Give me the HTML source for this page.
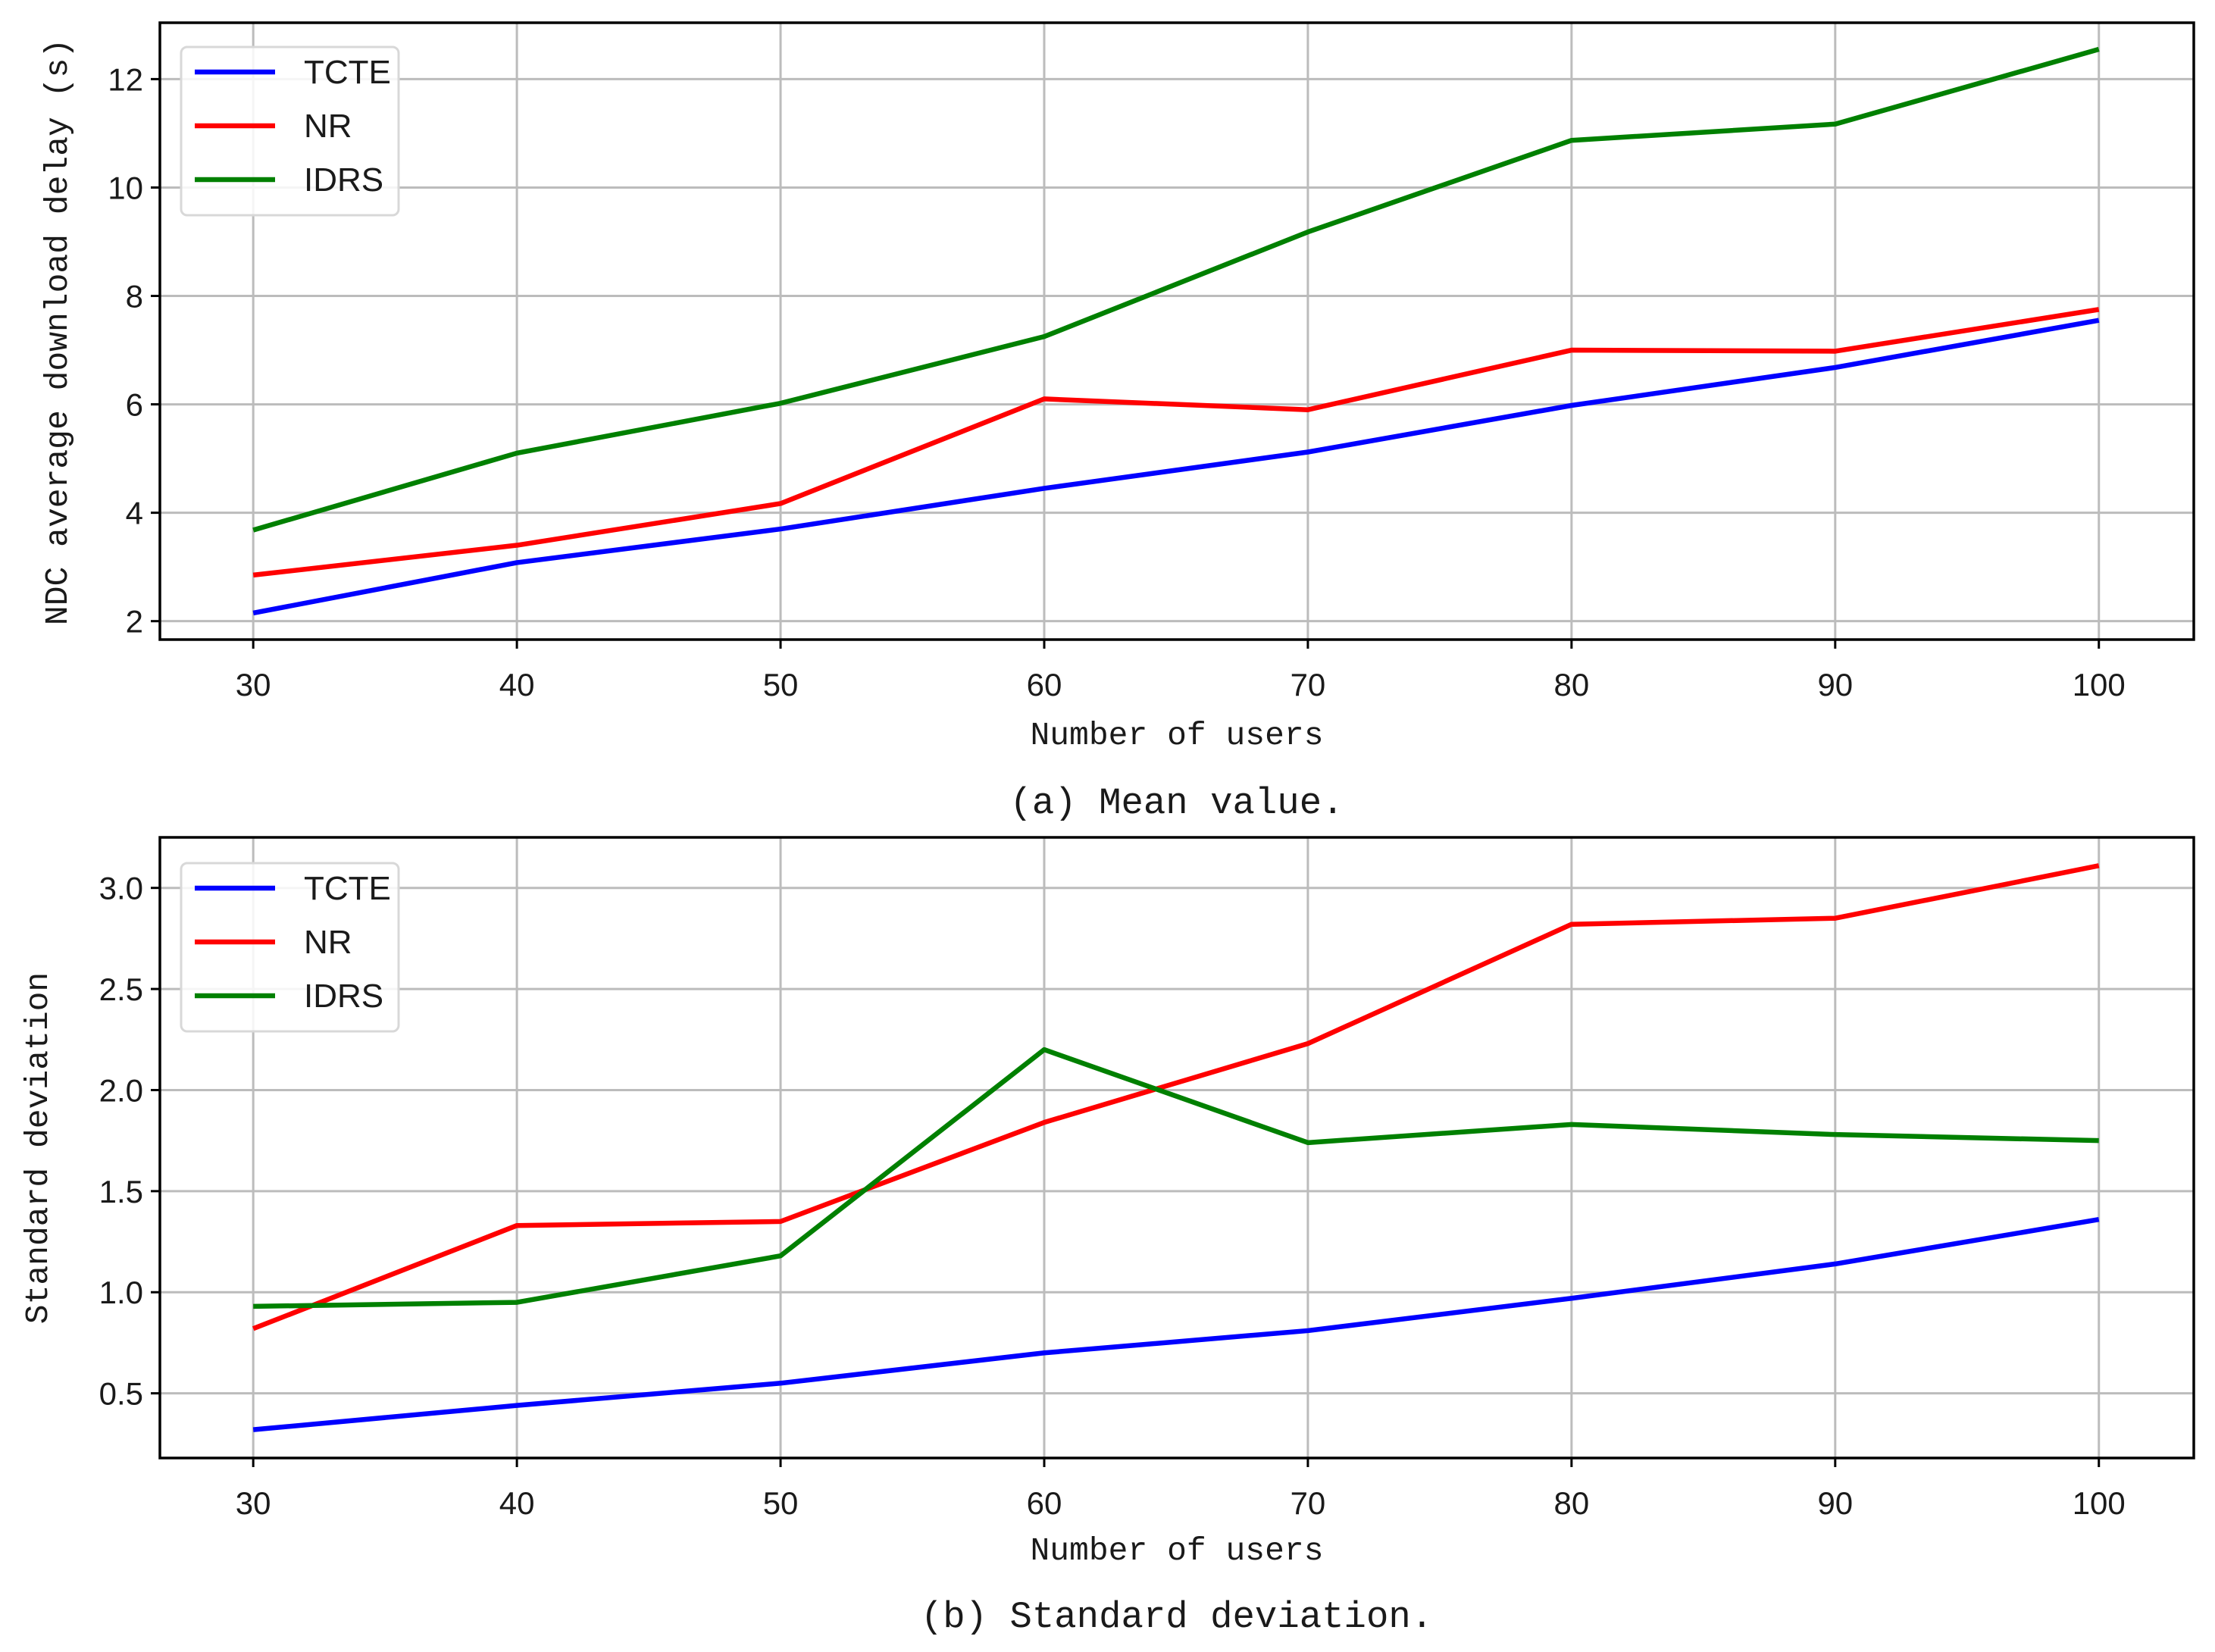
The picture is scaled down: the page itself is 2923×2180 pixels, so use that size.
<!DOCTYPE html>
<html><head><meta charset="utf-8"><style>
html,body{margin:0;padding:0;background:#fff;}
svg{display:block;}
text{fill:#1a1a1a;}
.mono{font-family:"Liberation Mono",monospace;}
.sans{font-family:"Liberation Sans",sans-serif;}
</style></head>
<body>
<svg id="chart" width="2923" height="2180" viewBox="0 0 2923 2180" xmlns="http://www.w3.org/2000/svg"></svg>
<script>
const categories = [30, 40, 50, 60, 70, 80, 90, 100];
const seriesNames = ["TCTE", "NR", "IDRS"];
const seriesColors = ["#0000ff", "#ff0000", "#008000"];
const meanTCTE = [2.15, 3.08, 3.7, 4.45, 5.12, 5.98, 6.68, 7.55];
const meanNR = [2.85, 3.4, 4.17, 6.1, 5.9, 7.0, 6.98, 7.75];
const meanIDRS = [3.68, 5.1, 6.02, 7.25, 9.18, 10.87, 11.17, 12.55];
const stdTCTE = [0.32, 0.44, 0.55, 0.70, 0.81, 0.97, 1.14, 1.36];
const stdNR = [0.82, 1.33, 1.35, 1.84, 2.23, 2.82, 2.85, 3.11];
const stdIDRS = [0.93, 0.95, 1.18, 2.20, 1.74, 1.83, 1.78, 1.75];
const meanTicks = [2, 4, 6, 8, 10, 12];
const meanTickLabels = ["2", "4", "6", "8", "10", "12"];
const stdTicks = [0.5, 1.0, 1.5, 2.0, 2.5, 3.0];
const stdTickLabels = ["0.5", "1.0", "1.5", "2.0", "2.5", "3.0"];
const xTickLabels = ["30", "40", "50", "60", "70", "80", "90", "100"];

const NS = "http://www.w3.org/2000/svg";
const svg = document.getElementById("chart");
function mk(tag, attrs, parent, name, inter) {
  const e = document.createElementNS(NS, tag);
  for (const k in attrs) e.setAttribute(k, attrs[k]);
  
  
  (parent || svg).appendChild(e);
  return e;
}

function drawPanel(cfg) {
  const g = mk("g", {}, svg, cfg.name, false);
  const L = 211, R = 2895, T = cfg.top, B = cfg.bottom;
  const xMin = 26.46, xMax = 103.6;
  const sx = v => L + (v - xMin) / (xMax - xMin) * (R - L);
  const sy = v => B - (v - cfg.yMin) / (cfg.yMax - cfg.yMin) * (B - T);
  categories.forEach((c, i) => {
    mk("line", {x1: sx(c), x2: sx(c), y1: T, y2: B, stroke: "#bcbcbc", "stroke-width": 3}, g, "x-grid-line", false);
    mk("line", {x1: sx(c), x2: sx(c), y1: B, y2: B + 12, stroke: "#000", "stroke-width": 3}, g, "x-tick", false);
    const t = mk("text", {x: sx(c), y: B + 74, "text-anchor": "middle", "font-size": 42, class: "sans"}, g, "x-tick-label", false);
    t.textContent = xTickLabels[i];
  });
  cfg.ticks.forEach((v, i) => {
    mk("line", {x1: L, x2: R, y1: sy(v), y2: sy(v), stroke: "#bcbcbc", "stroke-width": 3}, g, "y-grid-line", false);
    mk("line", {x1: L - 12, x2: L, y1: sy(v), y2: sy(v), stroke: "#000", "stroke-width": 3}, g, "y-tick", false);
    const t = mk("text", {x: L - 22, y: sy(v) + 15, "text-anchor": "end", "font-size": 42, class: "sans"}, g, "y-tick-label", false);
    t.textContent = cfg.tickLabels[i];
  });
  cfg.series.forEach((vals, si) => {
    const pts = vals.map((v, i) => sx(categories[i]) + "," + sy(v)).join(" ");
    mk("polyline", {points: pts, fill: "none", stroke: seriesColors[si], "stroke-width": 6.5, "stroke-linejoin": "round"}, g, "line-" + seriesNames[si].toLowerCase(), false);
  });
  mk("rect", {x: L, y: T, width: R - L, height: B - T, fill: "none", stroke: "#000", "stroke-width": 3.5}, g, "plot-frame", false);
  const lg = mk("g", {}, g, "legend", false);
  mk("rect", {x: 239, y: cfg.legTop, width: 287, height: 222, rx: 8, fill: "#fff", "fill-opacity": 0.85, stroke: "#d8d8d8", "stroke-width": 3}, lg, "legend-box", false);
  seriesNames.forEach((n, i) => {
    const y = cfg.legTop + 33 + i * 71;
    mk("line", {x1: 257, x2: 363, y1: y, y2: y, stroke: seriesColors[i], "stroke-width": 6.5}, lg, "legend-swatch", false);
    const t = mk("text", {x: 401, y: y + 15, "text-anchor": "start", "font-size": 44, class: "sans"}, lg, "legend-entry", false);
    t.textContent = n;
  });
  const xl = mk("text", {x: 1553, y: cfg.xLabelY, "text-anchor": "middle", "font-size": 43, class: "mono"}, g, "x-axis-title", false);
  xl.textContent = "Number of users";
  const yl = mk("text", {x: 0, y: 0, "text-anchor": "middle", "font-size": 43, class: "mono", transform: "translate(" + cfg.yLabelX + "," + cfg.yLabelY + ") rotate(-90)"}, g, "y-axis-title", false);
  yl.textContent = cfg.yTitle;
  const cap = mk("text", {x: 1553, y: cfg.capY, "text-anchor": "middle", "font-size": 49, class: "mono"}, g, "caption", false);
  cap.textContent = cfg.caption;
}

drawPanel({name: "panel-mean", top: 30, bottom: 844, yMin: 1.66, yMax: 13.04,
  ticks: meanTicks, tickLabels: meanTickLabels, series: [meanTCTE, meanNR, meanIDRS],
  legTop: 62, xLabelY: 982, yLabelX: 88, yLabelY: 438, yTitle: "NDC average download delay (s)",
  capY: 1073, caption: "(a) Mean value."});
drawPanel({name: "panel-std", top: 1105, bottom: 1924, yMin: 0.18, yMax: 3.25,
  ticks: stdTicks, tickLabels: stdTickLabels, series: [stdTCTE, stdNR, stdIDRS],
  legTop: 1139, xLabelY: 2058, yLabelX: 62, yLabelY: 1515, yTitle: "Standard deviation",
  capY: 2147, caption: "(b) Standard deviation."});
</script>
</body></html>
